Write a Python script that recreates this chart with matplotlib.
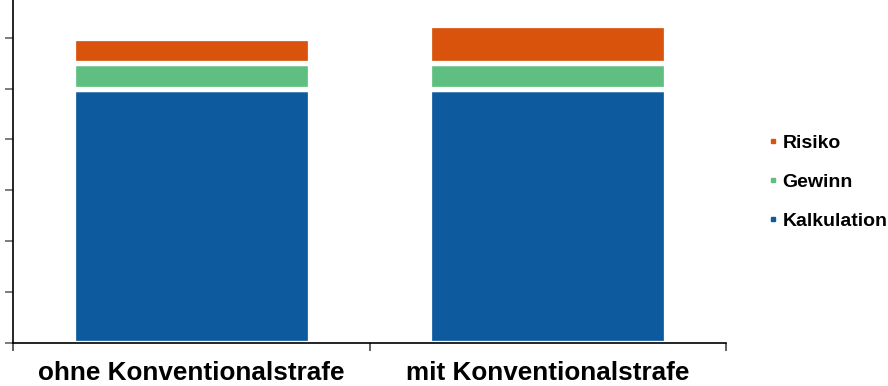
import matplotlib
matplotlib.use("Agg")
import matplotlib.pyplot as plt
from matplotlib.lines import Line2D

categories = ["ohne Konventionalstrafe", "mit Konventionalstrafe"]
kalkulation = [5.0, 5.0]
gewinn = [0.5, 0.5]
risiko = [0.5, 0.75]
series_names = ["Kalkulation", "Gewinn", "Risiko"]
colors = ["#0E5A9E", "#5EBF80", "#D9530C"]

plt.rcParams['font.family'] = ['Liberation Sans', 'DejaVu Sans']

W, H = 888, 386
fig = plt.figure(figsize=(W / 100, H / 100), dpi=100)
left_px, right_px, base_px = 13.3, 725.7, 342.7
unit_px = 50.83
ymax = 7
ax = fig.add_axes([left_px / W, (H - base_px) / H, (right_px - left_px) / W, ymax * unit_px / H])

x = list(range(len(categories)))
bottom = [0.0] * len(categories)
for name, vals, c in zip(series_names, [kalkulation, gewinn, risiko], colors):
    ax.bar(x, vals, bottom=bottom, width=0.664, color=c, edgecolor="white", linewidth=3.8, label=name, zorder=2)
    bottom = [b + v for b, v in zip(bottom, vals)]

ax.set_xlim(-0.5, len(categories) - 0.5)
ax.set_ylim(0, ymax)
ax.set_yticks(range(0, ymax + 1))
ax.set_yticklabels([])
ax.set_xticks([i - 0.5 for i in range(len(categories) + 1)])
ax.set_xticklabels([])
ax.set_xticks(x, minor=True)
ax.set_xticklabels(categories, minor=True, fontsize=18.8, fontweight="bold")
ax.tick_params(axis="x", which="minor", length=0, pad=13.5)
ax.tick_params(axis="x", which="major", direction="out", length=6, width=1.2, color="#444444")
ax.tick_params(axis="y", which="major", direction="out", length=6, width=1.2, color="#666666")
for s in ["top", "right"]:
    ax.spines[s].set_visible(False)
for s in ["left", "bottom"]:
    ax.spines[s].set_linewidth(1.2)
    ax.spines[s].set_color("black")

handles = [Line2D([0], [0], marker="s", linestyle="", markersize=3.2, color=c) for c in colors]
labels = series_names
leg = fig.legend(handles[::-1], labels[::-1], loc="center left",
                 bbox_to_anchor=(767 / W, (H - 182) / H), frameon=False,
                 prop={"weight": "bold", "size": 14}, handlelength=0.6,
                 handletextpad=0.2, labelspacing=1.09, borderpad=0, borderaxespad=0)

fig.savefig("out.png", dpi=100)
